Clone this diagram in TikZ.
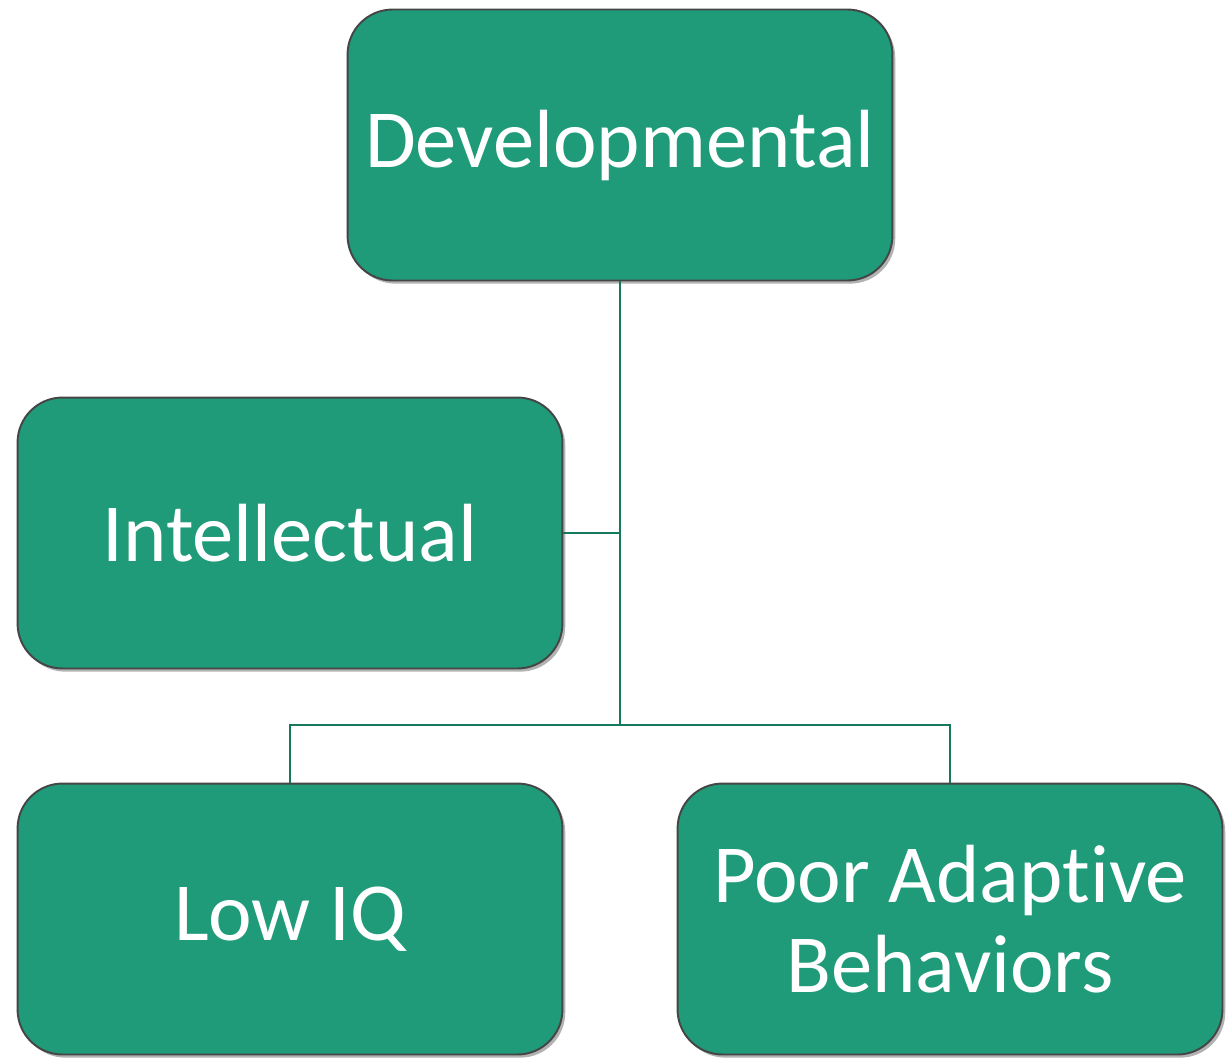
\documentclass[tikz,border=0pt]{standalone}
\usepackage{fontspec}
\setmainfont[Ligatures=NoCommon]{Carlito}
\usetikzlibrary{shadows}
\definecolor{boxgreen}{HTML}{1F9B7A}
\definecolor{linegreen}{HTML}{16795D}
\definecolor{edgegray}{HTML}{454545}
\tikzset{
  catbox/.style={draw=edgegray, line width=1.1pt, fill=boxgreen, rounded corners=0.9cm,
    minimum width=10.9cm, minimum height=5.42cm, text=white, align=center,
    font=\fontsize{47}{51}\selectfont,
    drop shadow={shadow xshift=1.6pt, shadow yshift=-1.8pt, opacity=.3, fill=black}},
  link/.style={draw=linegreen, line width=1.1pt}
}
\begin{document}
\begin{tikzpicture}[x=0.02cm,y=-0.02cm]
	\useasboundingbox (0,0) rectangle (1226,1058);
	\node[catbox] (dev)   at (620,145) {Developmental};
	\node[catbox] (intel) at (290,533) {Intellectual};
	\node[catbox] (lowiq) at (290,919) {Low IQ};
	\node[catbox] (poor)  at (950,919) {Poor Adaptive\\Behaviors};
	\coordinate (hub) at (620,725);
	\draw[link] (dev.south) -- (hub);
	\draw[link] (intel.east) -- (intel.east -| hub);
	\draw[link] (lowiq.north) |- (hub) -| (poor.north);
\end{tikzpicture}
\end{document}
